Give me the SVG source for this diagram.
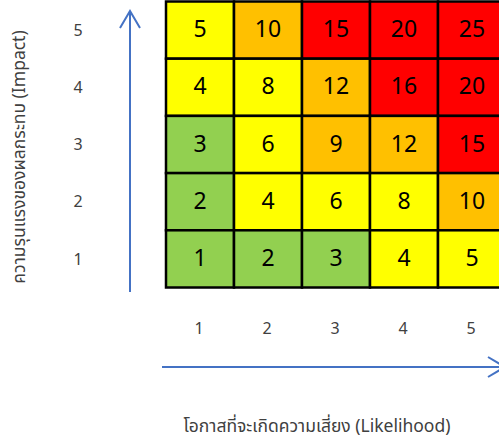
<svg xmlns="http://www.w3.org/2000/svg" width="499" height="443" viewBox="0 0 499 443">
<style>
.c{stroke:#000;stroke-width:2.5}
.y{fill:#FFFF00}.o{fill:#FFC000}.r{fill:#FF0000}.g{fill:#92D050}
.v{font-family:"Noto Sans Thai","DejaVu Sans","Noto Sans",sans-serif;font-size:23px;fill:#000;text-anchor:middle;dominant-baseline:central}
.a{font-family:"Noto Sans","DejaVu Sans",sans-serif;font-size:16px;fill:#404040;text-anchor:middle;dominant-baseline:central}
.t{font-family:"Noto Sans Thai","Noto Sans","DejaVu Sans",sans-serif;font-size:17.5px;fill:#404040;text-anchor:middle}
.ax{stroke:#4472C4;stroke-width:2;fill:none}
</style>
<rect width="499" height="443" fill="#fff"/>
<g id="connectors">
<path class="ax" d="M130,292 V11 M120,28 L130,11 L140,28"/>
<path class="ax" d="M162,367 H505 M488,357 L505,367 L488,377"/>
</g>
<g id="grid">
<g id="r5">
<rect class="c y" x="166" y="1.5" width="68" height="57.2"/><text class="v" x="200" y="30">5</text>
<rect class="c o" x="234" y="1.5" width="68" height="57.2"/><text class="v" x="268" y="30">10</text>
<rect class="c r" x="302" y="1.5" width="68" height="57.2"/><text class="v" x="336" y="30">15</text>
<rect class="c r" x="370" y="1.5" width="68" height="57.2"/><text class="v" x="404" y="30">20</text>
<rect class="c r" x="438" y="1.5" width="68" height="57.2"/><text class="v" x="472" y="30">25</text>
</g>
<g id="r4">
<rect class="c y" x="166" y="58.7" width="68" height="57.2"/><text class="v" x="200" y="87.3">4</text>
<rect class="c y" x="234" y="58.7" width="68" height="57.2"/><text class="v" x="268" y="87.3">8</text>
<rect class="c o" x="302" y="58.7" width="68" height="57.2"/><text class="v" x="336" y="87.3">12</text>
<rect class="c r" x="370" y="58.7" width="68" height="57.2"/><text class="v" x="404" y="87.3">16</text>
<rect class="c r" x="438" y="58.7" width="68" height="57.2"/><text class="v" x="472" y="87.3">20</text>
</g>
<g id="r3">
<rect class="c g" x="166" y="115.9" width="68" height="57.2"/><text class="v" x="200" y="144.5">3</text>
<rect class="c y" x="234" y="115.9" width="68" height="57.2"/><text class="v" x="268" y="144.5">6</text>
<rect class="c o" x="302" y="115.9" width="68" height="57.2"/><text class="v" x="336" y="144.5">9</text>
<rect class="c o" x="370" y="115.9" width="68" height="57.2"/><text class="v" x="404" y="144.5">12</text>
<rect class="c r" x="438" y="115.9" width="68" height="57.2"/><text class="v" x="472" y="144.5">15</text>
</g>
<g id="r2">
<rect class="c g" x="166" y="173.1" width="68" height="57.2"/><text class="v" x="200" y="201.7">2</text>
<rect class="c y" x="234" y="173.1" width="68" height="57.2"/><text class="v" x="268" y="201.7">4</text>
<rect class="c y" x="302" y="173.1" width="68" height="57.2"/><text class="v" x="336" y="201.7">6</text>
<rect class="c y" x="370" y="173.1" width="68" height="57.2"/><text class="v" x="404" y="201.7">8</text>
<rect class="c o" x="438" y="173.1" width="68" height="57.2"/><text class="v" x="472" y="201.7">10</text>
</g>
<g id="r1">
<rect class="c g" x="166" y="230.3" width="68" height="57.2"/><text class="v" x="200" y="258.9">1</text>
<rect class="c g" x="234" y="230.3" width="68" height="57.2"/><text class="v" x="268" y="258.9">2</text>
<rect class="c g" x="302" y="230.3" width="68" height="57.2"/><text class="v" x="336" y="258.9">3</text>
<rect class="c y" x="370" y="230.3" width="68" height="57.2"/><text class="v" x="404" y="258.9">4</text>
<rect class="c y" x="438" y="230.3" width="68" height="57.2"/><text class="v" x="472" y="258.9">5</text>
</g>
</g>
<g id="y-scale">
<text class="a" x="78" y="30">5</text>
<text class="a" x="78" y="87">4</text>
<text class="a" x="78" y="144">3</text>
<text class="a" x="78" y="201">2</text>
<text class="a" x="78" y="259">1</text>
</g>
<g id="x-scale">
<text class="a" x="199" y="328">1</text>
<text class="a" x="267" y="328">2</text>
<text class="a" x="335" y="328">3</text>
<text class="a" x="403" y="328">4</text>
<text class="a" x="471" y="328">5</text>
</g>
<g id="y-title"><text class="t" transform="translate(25,157) rotate(-90)">ความรุนแรงของผลกระทบ (Impact)</text></g>
<g id="x-title"><text class="t" x="317" y="432">โอกาสที่จะเกิดความเสี่ยง (Likelihood)</text></g>
</svg>
